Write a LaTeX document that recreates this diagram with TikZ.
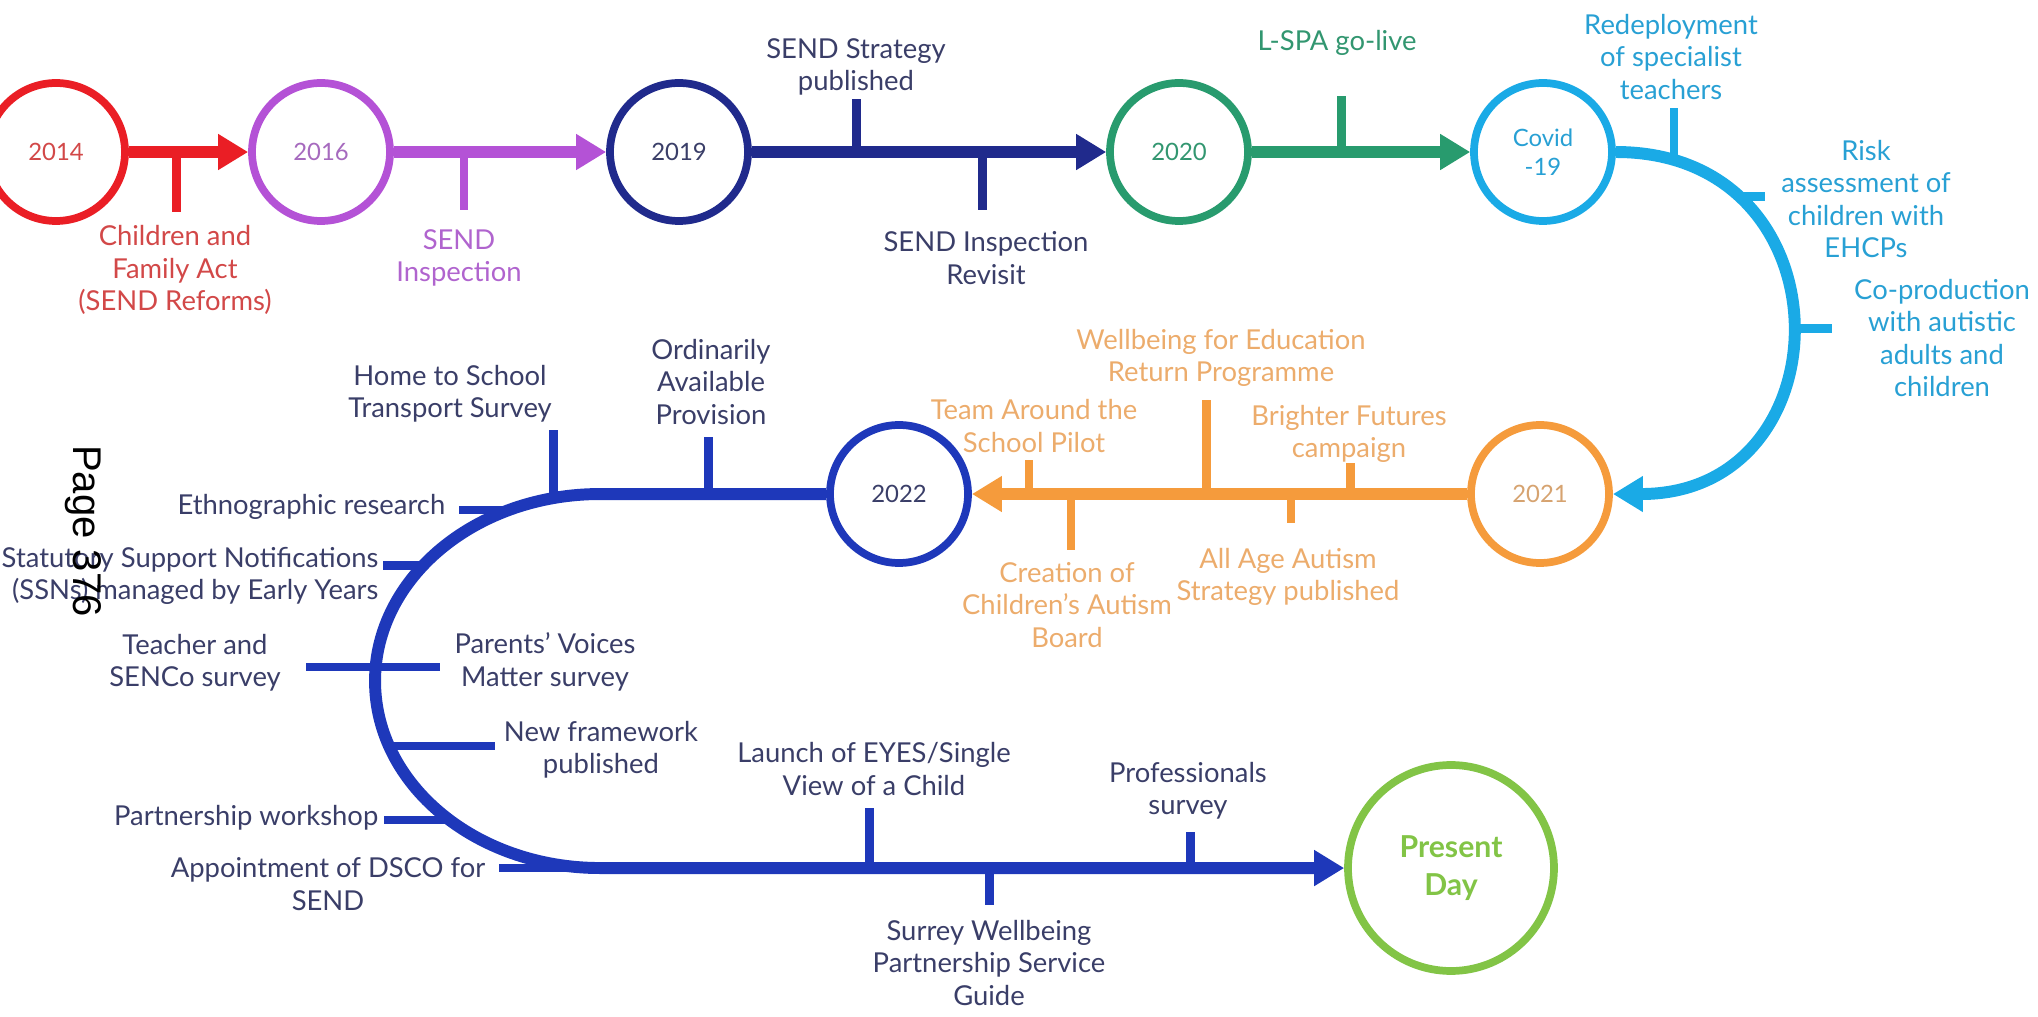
\documentclass[tikz,border=0pt]{standalone}
\usepackage{fontspec}
\setmainfont{Lato}
\newfontfamily\pagefont{Liberation Sans}
\usetikzlibrary{arrows.meta}
\definecolor{redline}{RGB}{234,30,37}
\definecolor{redtxt}{RGB}{210,72,72}
\definecolor{purpline}{RGB}{180,82,214}
\definecolor{purptxt}{RGB}{176,100,206}
\definecolor{navyline}{RGB}{32,42,140}
\definecolor{navytxt}{RGB}{58,62,104}
\definecolor{greenline}{RGB}{40,155,110}
\definecolor{greentxt}{RGB}{50,150,112}
\definecolor{cyanline}{RGB}{26,170,230}
\definecolor{cyantxt}{RGB}{40,160,212}
\definecolor{orangeline}{RGB}{245,155,60}
\definecolor{orangetxt}{RGB}{236,172,108}
\definecolor{blueline}{RGB}{30,56,186}
\definecolor{nowgreen}{RGB}{130,196,70}
\newcommand\notefont{\fontsize{7.8}{9.25}\selectfont}
\newcommand\yearfont{\fontsize{6.8}{8.2}\selectfont}
\newcommand\nowfont{\fontsize{8.6}{10.8}\selectfont\bfseries}
\begin{document}
\begin{tikzpicture}[scale=0.1]
	\tikzstyle{every node}+=[inner sep=0pt]
	\tikzstyle{year}=[circle, line width=2.2pt, minimum size=1.38cm, font=\yearfont, align=center]
	\tikzstyle{link}=[line width=3.4pt, -{Triangle[length=0.3cm,width=0.34cm]}]
	\tikzstyle{tick}=[line width=2.5pt]
	\tikzstyle{note}=[font=\notefont, align=center]
	\useasboundingbox (0,0) rectangle (203.8,-101.7);
	\node [year, draw=redline, text=redtxt] (y14) at (5.6,-15.2) {2014};
	\node [year, draw=purpline, text=purptxt!80!gray] (y16) at (32.1,-15.2) {2016};
	\node [year, draw=navyline, text=navytxt] (y19) at (67.9,-15.2) {2019};
	\node [year, draw=greenline, text=greentxt] (y20) at (117.9,-15.2) {2020};
	\node [year, draw=cyanline, text=cyantxt] (cov) at (154.3,-15.2) {Covid\\-19};
	\node [year, draw=orangeline, text=orangetxt!80!gray] (y21) at (154.0,-49.4) {2021};
	\node [year, draw=blueline, text=navytxt] (y22) at (89.9,-49.4) {2022};
	\node [year, draw=nowgreen, text=nowgreen, minimum size=2.06cm, font=\nowfont] (now) at (145.1,-86.8) {Present\\Day};
	\draw [link, redline] (y14) -- coordinate[pos=0.40] (cfat) (y16);
	\draw [tick, redline] (cfat) -- ++(0,-6);
	\draw [link, purpline] (y16) -- coordinate[pos=0.33] (sit) (y19);
	\draw [tick, purpline] (sit) -- ++(0,-5.8);
	\draw [link, navyline] (y19) -- coordinate[pos=0.295] (sspt) coordinate[pos=0.65] (sirt) (y20);
	\draw [tick, navyline] (sspt) -- ++(0,5.3);
	\draw [tick, navyline] (sirt) -- ++(0,-5.8);
	\draw [link, greenline] (y20) -- coordinate[pos=0.41] (lspt) (cov);
	\draw [tick, greenline] (lspt) -- ++(0,5.6);
	\draw [link, cyanline] (cov.east) to[out=0, in=0, looseness=1.76] coordinate[pos=0.09] (rdst) coordinate[pos=0.225] (rkat) coordinate[pos=0.51] (cpat) (y21.east);
	\draw [tick, cyanline] (rdst) -- ++(0,5.2);
	\draw [tick, cyanline] (rkat) -- ++(2.6,0);
	\draw [tick, cyanline] (cpat) -- ++(4.1,0);
	\draw [link, orangeline] (y21) -- coordinate[pos=0.236] (bfct) coordinate[pos=0.356] (aast) coordinate[pos=0.527] (wfet) coordinate[pos=0.80] (ccat) coordinate[pos=0.885] (tast) (y22);
	\draw [tick, orangeline] (bfct) -- ++(0,3.1);
	\draw [tick, orangeline] (aast) -- ++(0,-2.9);
	\draw [tick, orangeline] (wfet) -- ++(0,9.4);
	\draw [tick, orangeline] (ccat) -- ++(0,-5.6);
	\draw [tick, orangeline] (tast) -- ++(0,3.4);
	\coordinate (bend) at (60,-49.4);
	\coordinate (ctr) at (60,-68.1);
	\draw [link, blueline] (y22) -- coordinate[pos=0.522] (oapt) (bend) arc[start angle=90, end angle=270, x radius=22.5, y radius=18.7] -- coordinate[pos=0.362] (eyest) coordinate[pos=0.523] (swbt) coordinate[pos=0.793] (prst) (now);
	\draw [tick, blueline] (oapt) -- ++(0,5.7);
	\draw [tick, blueline] (ctr) ++(102:22.5 and 18.7) -- ++(0,6.8);
	\draw [tick, blueline] (ctr) ++(113.9:22.5 and 18.7) -- ++(-5,0);
	\draw [tick, blueline] (ctr) ++(141.7:22.5 and 18.7) -- ++(-4,0);
	\draw [tick, blueline] (ctr) ++(175.7:22.5 and 18.7) -- ++(-7,0);
	\draw [tick, blueline] (ctr) ++(175.7:22.5 and 18.7) -- ++(6.4,0);
	\draw [tick, blueline] (ctr) ++(200.3:22.5 and 18.7) -- ++(10.6,0);
	\draw [tick, blueline] (ctr) ++(228:22.5 and 18.7) -- ++(-6.5,0);
	\draw [tick, blueline] (ctr) ++(270:22.5 and 18.7) -- ++(-10.1,0);
	\draw [tick, blueline] (eyest) -- ++(0,6);
	\draw [tick, blueline] (swbt) -- ++(0,-3.7);
	\draw [tick, blueline] (prst) -- ++(0,3.6);
	\node [note, text=redtxt] (cfa) at (17.5,-27.0) {Children and\\Family Act\\(SEND Reforms)};
	\node [note, text=purptxt] (si) at (45.9,-25.8) {SEND\\Inspection};
	\node [note, text=navytxt] (ssp) at (85.6,-6.7) {SEND Strategy\\published};
	\node [note, text=navytxt] (sir) at (98.6,-25.8) {SEND Inspection\\Revisit};
	\node [note, text=greentxt] (lsp) at (133.7,-4.3) {L-SPA go-live};
	\node [note, text=cyantxt] (rds) at (167.1,-5.7) {Redeployment\\of specialist\\teachers};
	\node [note, text=cyantxt] (rka) at (186.6,-19.9) {Risk\\assessment of\\children with\\EHCPs};
	\node [note, text=cyantxt] (cpa) at (194.2,-33.8) {Co-production\\with autistic\\adults and\\children};
	\node [note, text=orangetxt] (wfe) at (122.1,-35.8) {Wellbeing for Education\\Return Programme};
	\node [note, text=orangetxt] (tas) at (103.4,-42.6) {Team Around the\\School Pilot};
	\node [note, text=orangetxt] (bfc) at (134.9,-43.4) {Brighter Futures\\campaign};
	\node [note, text=orangetxt] (cca) at (106.7,-60.5) {Creation of\\Children's Autism\\Board};
	\node [note, text=orangetxt] (aas) at (128.8,-57.7) {All Age Autism\\Strategy published};
	\node [note, text=navytxt] (hts) at (45.0,-39.4) {Home to School\\Transport Survey};
	\node [note, text=navytxt] (oap) at (71.1,-38.2) {Ordinarily\\Available\\Provision};
	\node [note, text=navytxt, anchor=east] (eth) at (44.6,-50.7) {Ethnographic research};
	\node [note, text=navytxt, anchor=east, align=right] (ssn) at (37.9,-57.6) {Statutory Support Notifications\\(SSNs) managed by Early Years};
	\node [note, text=navytxt] (tsc) at (19.5,-66.3) {Teacher and\\SENCo survey};
	\node [note, text=navytxt] (pvm) at (54.5,-66.2) {Parents' Voices\\Matter survey};
	\node [note, text=navytxt] (nfp) at (60.1,-75.0) {New framework\\published};
	\node [note, text=navytxt, anchor=east] (pws) at (37.9,-81.8) {Partnership workshop};
	\node [note, text=navytxt] (dsco) at (32.8,-88.4) {Appointment of DSCO for\\SEND};
	\node [note, text=navytxt] (eyes) at (87.4,-76.9) {Launch of EYES/Single\\View of a Child};
	\node [note, text=navytxt] (prs) at (118.8,-79.1) {Professionals\\survey};
	\node [note, text=navytxt] (swb) at (98.9,-96.3) {Surrey Wellbeing\\Partnership Service\\Guide};
	\node [font=\pagefont\fontsize{11.4}{13}\selectfont, rotate=-90] (pg) at (8.3,-53.1) {Page 376};
\end{tikzpicture}
\end{document}
